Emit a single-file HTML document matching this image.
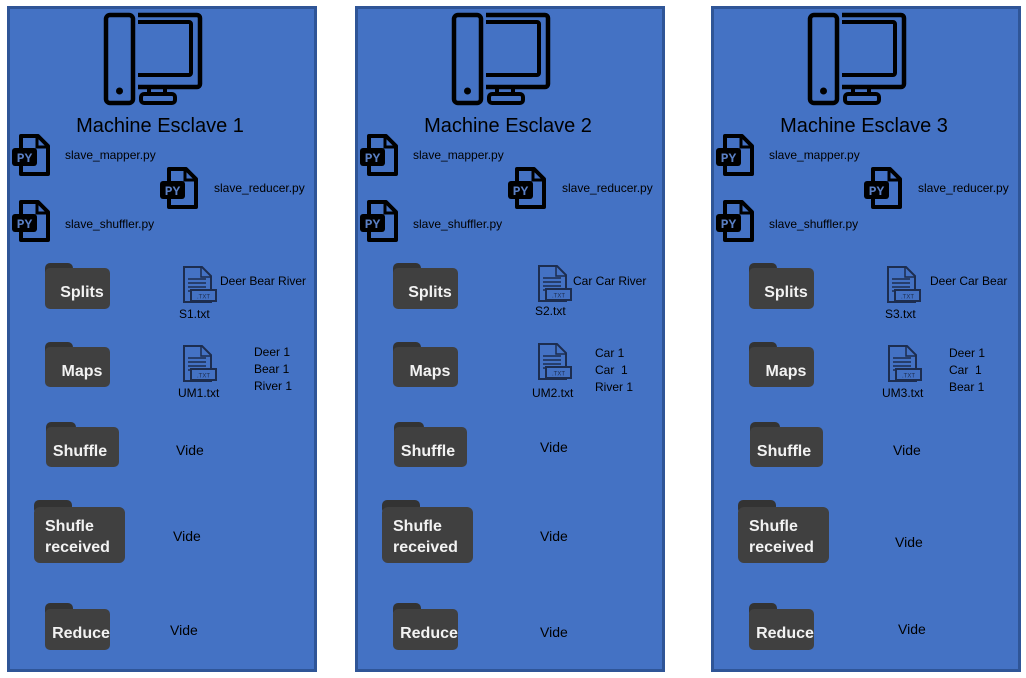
<!DOCTYPE html>
<html><head><meta charset="utf-8"><style>
html,body{margin:0;padding:0;background:#fff;}
svg{display:block;font-family:"Liberation Sans",sans-serif;}
.t{font-size:12px;fill:#000;}
.f{font-size:16px;font-weight:bold;fill:#f2f2f2;}
.ti{font-size:20px;fill:#000;}
.v{font-size:14px;fill:#000;}
</style></head><body>
<svg width="1026" height="678" viewBox="0 0 1026 678" xmlns="http://www.w3.org/2000/svg">
<defs>
<g id="pc">
  <rect x="106" y="15" width="27" height="88" rx="4" fill="none" stroke="#000" stroke-width="4.5"/>
  <circle cx="119.5" cy="91" r="3.5" fill="#000"/>
  <path d="M138,15 H197 a3,3 0 0 1 3,3 V84 a3,3 0 0 1 -3,3 H138" fill="none" stroke="#000" stroke-width="4.5"/>
  <path d="M138,22 H189 a2,2 0 0 1 2,2 V73 a2,2 0 0 1 -2,2 H138" fill="none" stroke="#000" stroke-width="4"/>
  <path d="M149,87 V94 M165,87 V94" stroke="#000" stroke-width="4"/>
  <rect x="141" y="94" width="34" height="9" rx="3" fill="none" stroke="#000" stroke-width="4"/>
</g>
<g id="py">
  <path d="M9,2 H26 L36,12 V40 H9 Z" fill="none" stroke="#000" stroke-width="4" stroke-linejoin="round"/>
  <path d="M25,2 V13 H36" fill="none" stroke="#000" stroke-width="3"/>
  <rect x="0" y="14" width="25" height="18" rx="3" fill="#000"/>
  <text x="12.5" y="28" text-anchor="middle" font-size="13" font-weight="bold" fill="#5a7fc4" font-family="Liberation Mono,monospace">PY</text>
</g>
<g id="txt">
  <path d="M2,1 H20 L29,10 V36 H2 Z" fill="none" stroke="#1d2d4f" stroke-width="2"/>
  <path d="M19,1 V11 H29" fill="none" stroke="#1d2d4f" stroke-width="1.5"/>
  <path d="M6,13 H24 M6,17 H24 M6,21 H24 M6,25 H14" stroke="#1d2d4f" stroke-width="1.5"/>
  <rect x="9" y="24" width="25" height="11" fill="#4472c4" stroke="#1d2d4f" stroke-width="2"/>
  <text x="21.5" y="32.5" text-anchor="middle" font-size="6" fill="#1d2d4f">.TXT</text>
</g>
</defs>

<rect x="8.5" y="7.5" width="307" height="663" fill="#4472c4" stroke="#2f5597" stroke-width="3"/>
<rect x="356.5" y="7.5" width="307" height="663" fill="#4472c4" stroke="#2f5597" stroke-width="3"/>
<rect x="712.5" y="7.5" width="307" height="663" fill="#4472c4" stroke="#2f5597" stroke-width="3"/>

<g id="p1">
  <use href="#pc"/>
  <use href="#py" x="12" y="134"/>
  <use href="#py" x="160" y="167"/>
  <use href="#py" x="12" y="200"/>
  <text class="t" x="65" y="159">slave_mapper.py</text>
  <text class="t" x="214" y="192">slave_reducer.py</text>
  <text class="t" x="65" y="228">slave_shuffler.py</text>
  <rect x="45" y="263" width="28" height="14" rx="5" fill="#333"/>
  <rect x="45" y="268" width="65" height="41" rx="5" fill="#404040"/>
  <text class="f" x="82" y="297" text-anchor="middle">Splits</text>
  <rect x="45" y="342" width="28" height="14" rx="5" fill="#333"/>
  <rect x="45" y="347" width="65" height="40" rx="5" fill="#404040"/>
  <text class="f" x="82" y="376" text-anchor="middle">Maps</text>
  <rect x="46" y="422" width="30" height="14" rx="5" fill="#333"/>
  <rect x="46" y="427" width="73" height="40" rx="5" fill="#404040"/>
  <text class="f" x="80" y="456" text-anchor="middle">Shuffle</text>
  <rect x="34" y="500" width="38" height="14" rx="5" fill="#333"/>
  <rect x="34" y="507" width="91" height="56" rx="6" fill="#404040"/>
  <text class="f" x="45" y="531">Shufle</text>
  <text class="f" x="45" y="552">received</text>
  <rect x="45" y="603" width="28" height="14" rx="5" fill="#333"/>
  <rect x="45" y="609" width="65" height="41" rx="5" fill="#404040"/>
  <text class="f" x="81" y="638" text-anchor="middle">Reduce</text>
</g>
<use href="#p1" x="348"/>
<use href="#p1" x="704"/>

<text class="ti" x="160" y="132" text-anchor="middle">Machine Esclave 1</text>
<text class="ti" x="508" y="132" text-anchor="middle">Machine Esclave 2</text>
<text class="ti" x="864" y="132" text-anchor="middle">Machine Esclave 3</text>

<use href="#txt" x="182" y="266"/>
<text class="t" x="179" y="318" font-size="13">S1.txt</text>
<text class="t" x="220" y="285">Deer Bear River</text>
<use href="#txt" x="182" y="345"/>
<text class="t" x="178" y="397" font-size="13">UM1.txt</text>
<text class="t" x="254" y="356">Deer 1</text>
<text class="t" x="254" y="373">Bear 1</text>
<text class="t" x="254" y="390">River 1</text>
<text class="v" x="176" y="455">Vide</text>
<text class="v" x="173" y="541">Vide</text>
<text class="v" x="170" y="635">Vide</text>

<use href="#txt" x="537" y="265"/>
<text class="t" x="535" y="315" font-size="13">S2.txt</text>
<text class="t" x="573" y="285">Car Car River</text>
<use href="#txt" x="537" y="343"/>
<text class="t" x="532" y="397" font-size="13">UM2.txt</text>
<text class="t" x="595" y="357">Car 1</text>
<text class="t" x="595" y="374">Car&#160; 1</text>
<text class="t" x="595" y="391">River 1</text>
<text class="v" x="540" y="452">Vide</text>
<text class="v" x="540" y="541">Vide</text>
<text class="v" x="540" y="637">Vide</text>

<use href="#txt" x="886" y="266"/>
<text class="t" x="885" y="318" font-size="13">S3.txt</text>
<text class="t" x="930" y="285">Deer Car Bear</text>
<use href="#txt" x="887" y="345"/>
<text class="t" x="882" y="397" font-size="13">UM3.txt</text>
<text class="t" x="949" y="357">Deer 1</text>
<text class="t" x="949" y="374">Car&#160; 1</text>
<text class="t" x="949" y="391">Bear 1</text>
<text class="v" x="893" y="455">Vide</text>
<text class="v" x="895" y="547">Vide</text>
<text class="v" x="898" y="634">Vide</text>
</svg>
</body></html>
